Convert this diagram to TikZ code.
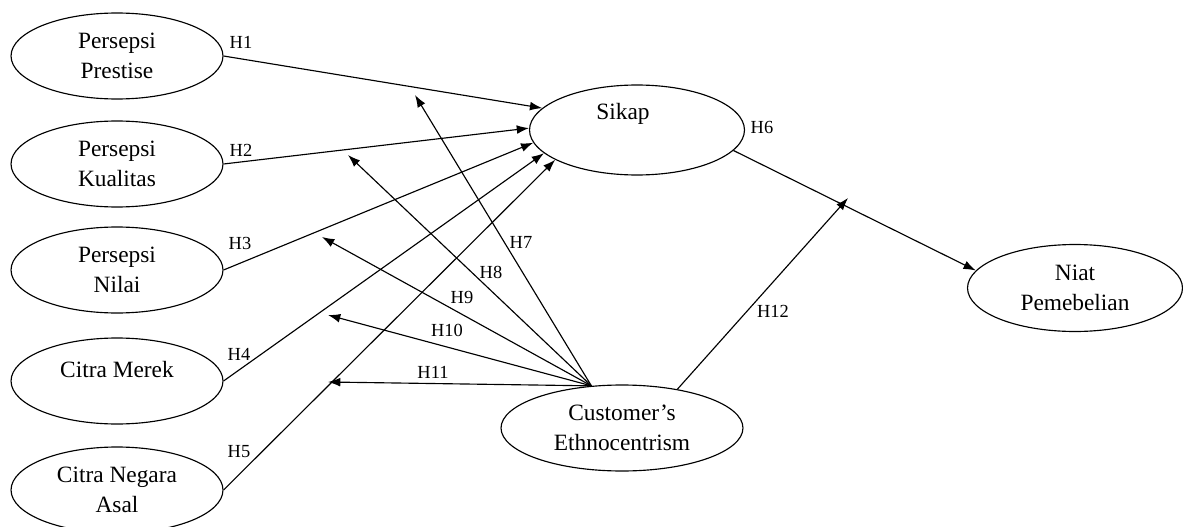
\documentclass[tikz,border=0pt]{standalone}
\usepackage{fontspec}
\setmainfont{Liberation Serif}
\usetikzlibrary{shapes.geometric,arrows.meta}
\begin{document}
\begin{tikzpicture}[x=0.02cm,y=-0.02cm,
  construct/.style={ellipse,draw,line width=0.65pt,inner sep=0pt,
    minimum width=4.24cm,minimum height=1.72cm,align=center,
    font=\fontsize{13.3}{16.8}\selectfont},
  caption/.style={inner sep=0pt,font=\fontsize{13.3}{16.8}\selectfont},
  link/.style={draw,line width=0.65pt,-{Latex[length=7pt,width=5pt]}},
  hyp/.style={inner sep=0pt,font=\fontsize{10.5}{12}\selectfont}]
\useasboundingbox (0,0) rectangle (1183,527);
% exogenous constructs
\node[construct] (pp) at (117,56)  {Persepsi\\Prestise};
\node[construct] (pk) at (117,164) {Persepsi\\Kualitas};
\node[construct] (pn) at (117,270) {Persepsi\\Nilai};
\node[construct] (cm) at (117,381) {};
\node[caption] (cmtext) at (117,370) {Citra Merek};
\node[construct] (cn) at (117,490) {Citra Negara\\Asal};
% mediator, outcome and moderator
\node[construct,minimum width=4.3cm,minimum height=1.8cm] (sikap) at (637,130) {};
\node[caption] (sikaptext) at (623,114) {Sikap};
\node[construct,minimum width=4.3cm,minimum height=1.74cm] (niat) at (1075,288) {Niat\\Pemebelian};
\node[construct,minimum width=4.84cm,minimum height=1.72cm] (cust) at (622,428) {Customer’s\\Ethnocentrism};
% free ends of the moderating arrows
\coordinate (t7)  at (415,95);
\coordinate (t8)  at (348,155);
\coordinate (t9)  at (322,237);
\coordinate (t10) at (328,315);
\coordinate (t11) at (328,382);
\coordinate (t12) at (848,198);
% direct paths
\draw[link] (pp.east) -- (sikap.167);
\draw[link] (pk.east) -- (sikap.179);
\draw[link] (pn.east) -- (sikap.187);
\draw[link] (cm.east) -- (sikap.194);
\draw[link] (cn.east) -- (sikap.200);
\draw[link] (sikap.-12) -- (niat.170);
% moderating paths
\draw[link] (cust.126) -- (t7);
\draw[link] (cust.126) -- (t8);
\draw[link] (cust.126) -- (t9);
\draw[link] (cust.126) -- (t10);
\draw[link] (cust.126) -- (t11);
\draw[link] (cust.35) -- (t12);
% hypothesis labels
\node[hyp] (h1)  at (241,42)  {H1};
\node[hyp] (h2)  at (241,150) {H2};
\node[hyp] (h3)  at (240,243) {H3};
\node[hyp] (h4)  at (239,354) {H4};
\node[hyp] (h5)  at (239,452) {H5};
\node[hyp] (h6)  at (762,127) {H6};
\node[hyp] (h7)  at (521,242) {H7};
\node[hyp] (h8)  at (491,272) {H8};
\node[hyp] (h9)  at (462,297) {H9};
\node[hyp] (h10) at (447,330) {H10};
\node[hyp] (h11) at (433,372) {H11};
\node[hyp] (h12) at (773,311) {H12};
\end{tikzpicture}
\end{document}
